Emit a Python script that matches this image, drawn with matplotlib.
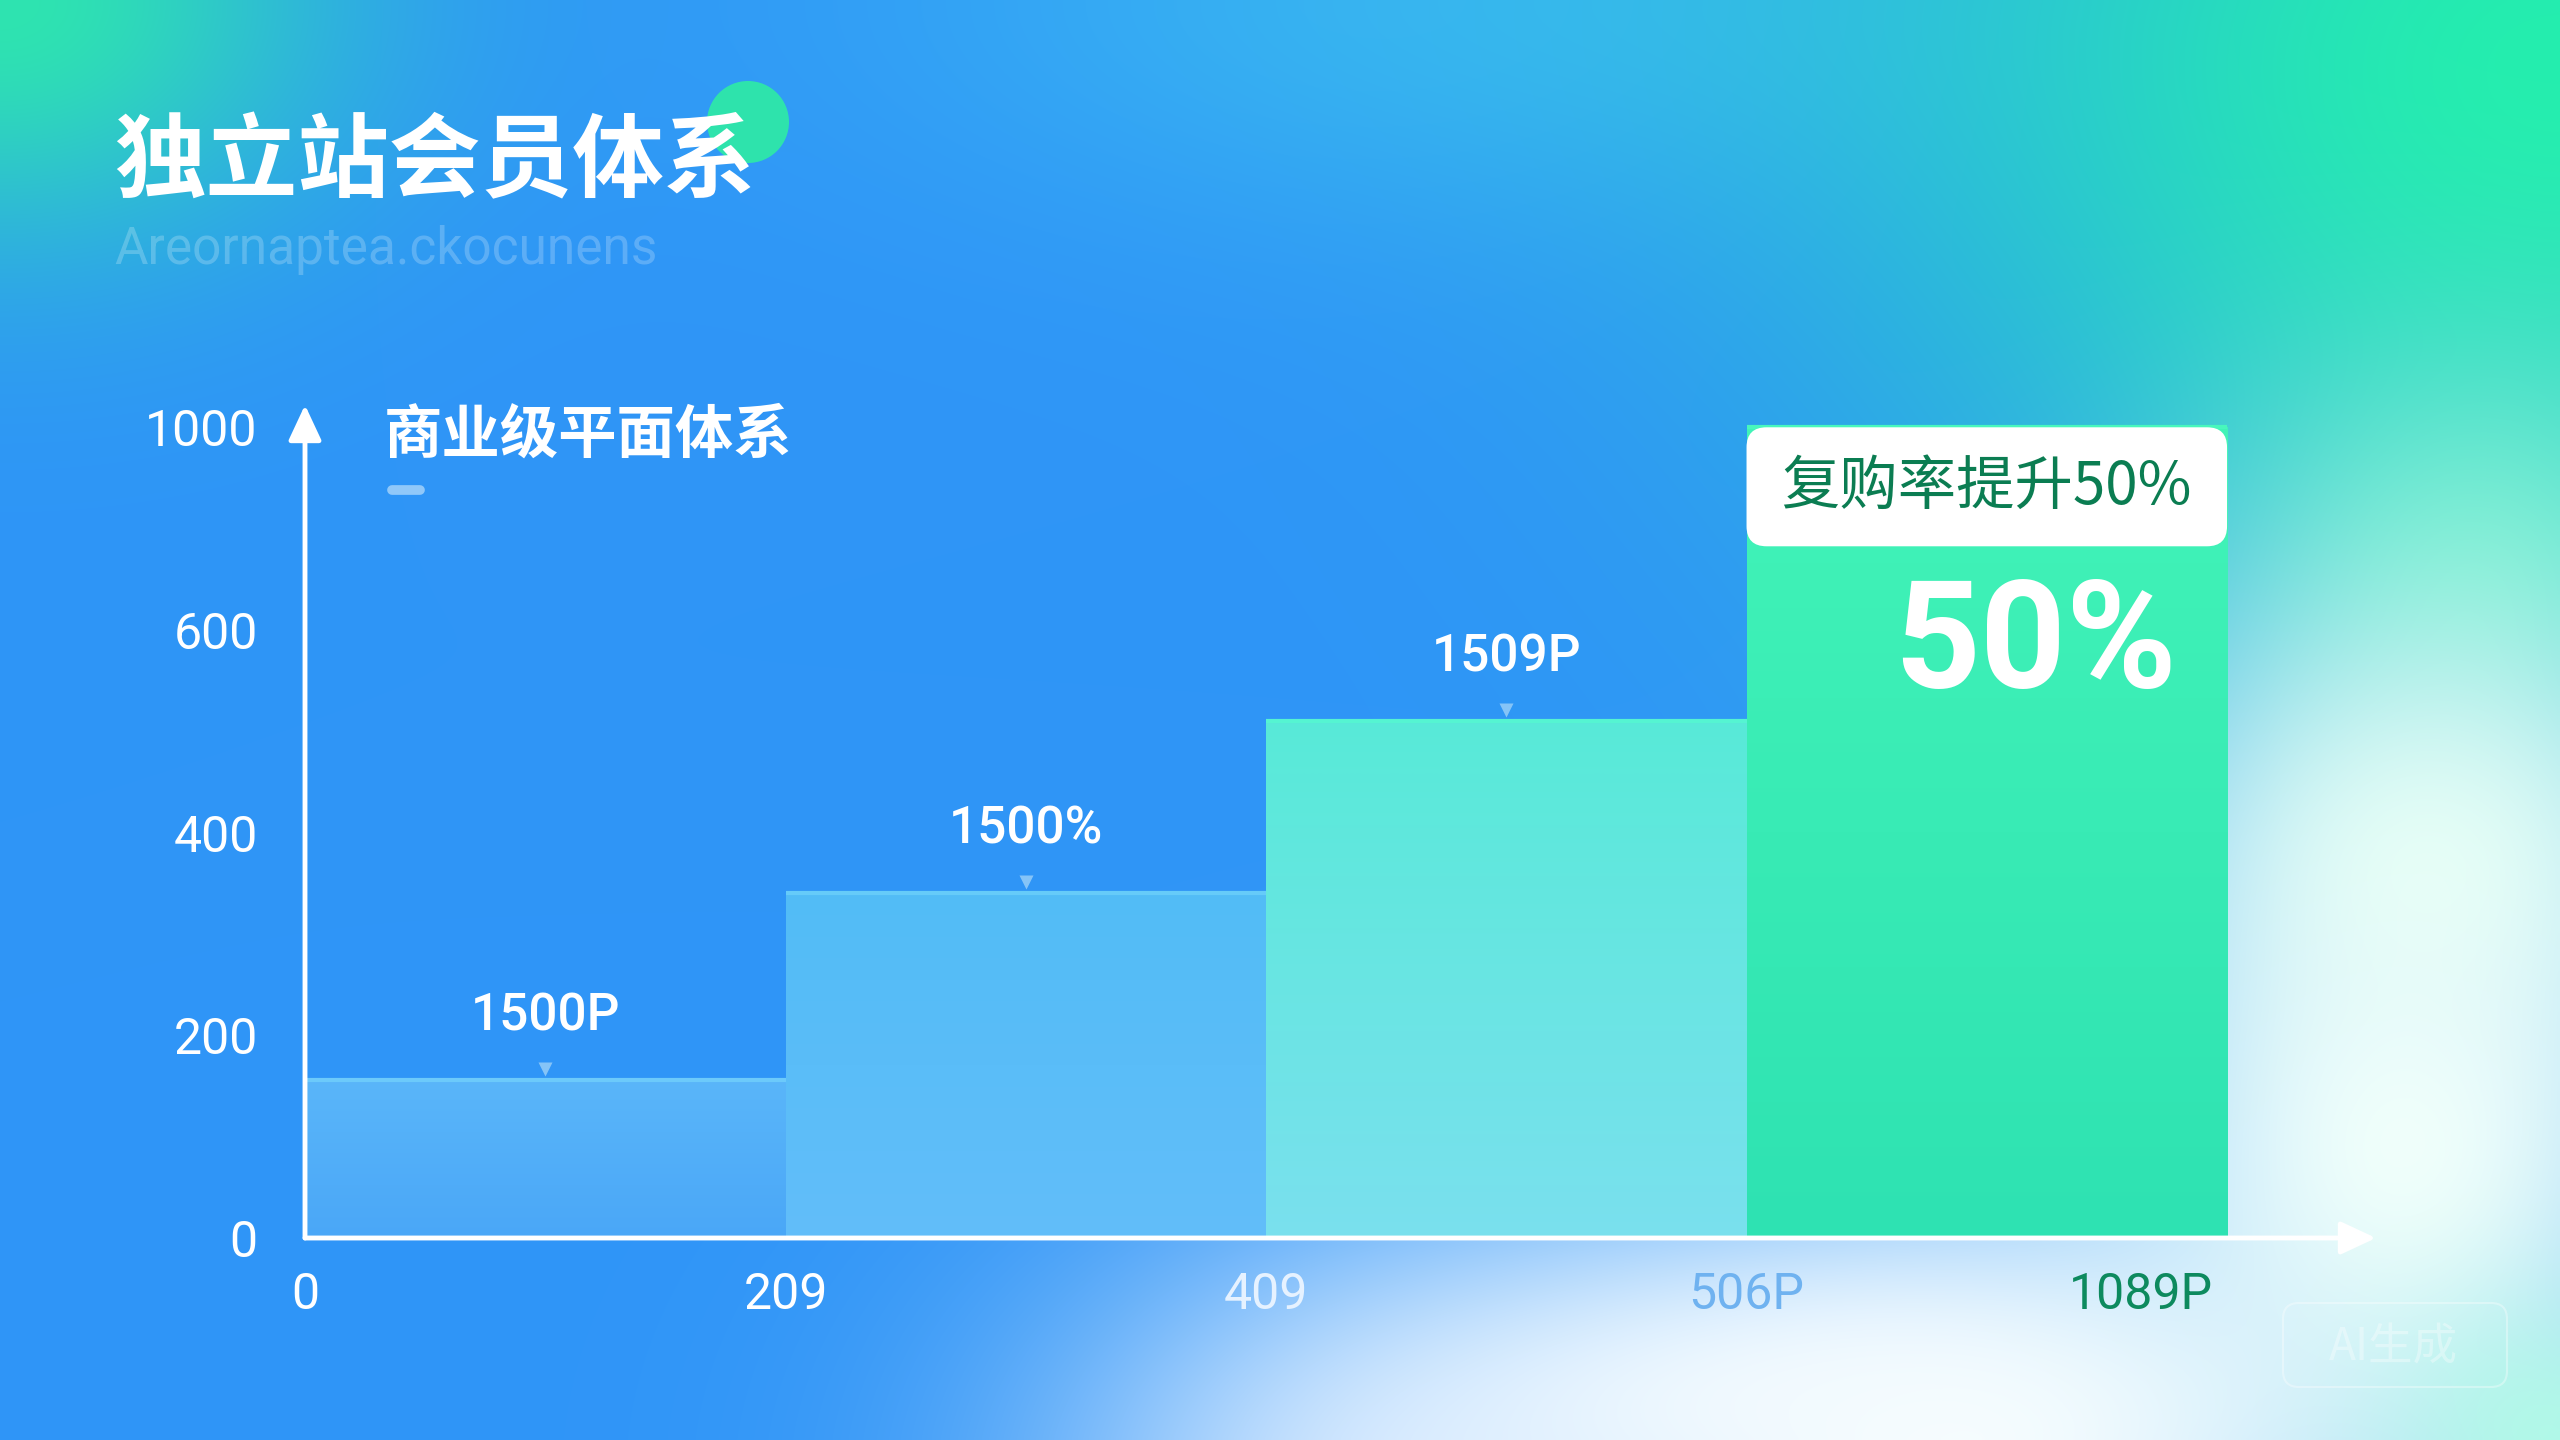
import numpy as np
import matplotlib
matplotlib.use("Agg")
import matplotlib.pyplot as plt
import matplotlib.transforms as mtransforms
from matplotlib.patches import FancyBboxPatch, Circle
from matplotlib.lines import Line2D
from matplotlib.colors import to_rgb

plt.rcParams['font.family'] = ['Noto Sans CJK SC', 'DejaVu Sans']
NUM_FONT = ['Roboto', 'Noto Sans CJK SC', 'DejaVu Sans']

W, H, DPI = 2560, 1440, 100

# ---- data ----
bar_left = [0, 1, 2, 3]
bar_values = [156, 340, 510, 1000]
bar_labels = ['1500P', '1500%', '1509P', '']
xtick_pos = [0, 1, 2, 3, 3.82]
xtick_labels = ['0', '209', '409', '506P', '1089P']
ytick_vals = [0, 200, 400, 600, 1000]
scale_vals = [0, 200, 400, 600, 1000, 1400]      # y axis is evenly spaced per tick
title = '独立站会员体系'
subtitle = 'Areornaptea.ckocunens'
chart_title = '商业级平面体系'
box_title = '复购率提升50%'
big_value = '50%'

# ---- styles ----
bar_top = ['#5ab6fa', '#52bcf6', '#58ead8', '#42f4b8']
bar_bot = ['#4aa7f7', '#62befa', '#7ae0ee', '#2ee2b2']
bar_edge = ['#6ccafb', '#66cbf9', '#55f4d2', '#48f7bc']
xtick_colors = ['white', 'white', '#e6f2ff', '#6fb2f0', '#0d8a5e']
WHITE = 'white'


def fwd(v):
    return np.interp(v, scale_vals, np.arange(len(scale_vals)))


def inv(p):
    return np.interp(p, np.arange(len(scale_vals)), scale_vals)


fig = plt.figure(figsize=(W / DPI, H / DPI), dpi=DPI)

# ---- background gradient ----
bg = fig.add_axes([0, 0, 1, 1], zorder=-5)
gy, gx = np.mgrid[0:1:360j, 0:1:640j]
img = np.ones((360, 640, 3)) * np.array(to_rgb('#2f95f7'))


def blob(cx, cy, sx, sy, color, a=1.0):
    w = a * np.exp(-(((gx - cx) / sx) ** 2 + ((gy - cy) / sy) ** 2))
    img[:] = img * (1 - w[..., None]) + np.array(to_rgb(color)) * w[..., None]


blob(0.58, 0.0, 0.24, 0.16, '#3ab8f2', 0.85)
blob(0.0, 0.0, 0.13, 0.17, '#2ee4b0')
blob(1.0, 0.05, 0.26, 0.38, '#24eeae')
blob(0.97, 0.38, 0.10, 0.16, '#62ecca', 0.9)
blob(0.95, 0.60, 0.12, 0.20, '#dafcf2')
blob(0.55, 1.05, 0.14, 0.18, '#cfe4ff', 0.9)
blob(0.76, 1.0, 0.22, 0.20, '#f8fdff')
blob(0.70, 0.97, 0.14, 0.08, '#f4fbff', 0.8)
blob(0.94, 0.80, 0.12, 0.25, '#f0fffb')
blob(1.0, 1.0, 0.07, 0.10, '#b2fce6', 0.9)
bg.imshow(img, extent=[0, 1, 0, 1], aspect='auto', interpolation='bilinear')
bg.set_axis_off()

# ---- main axes ----
ax = fig.add_axes([305 / W, 202 / H, (2376 - 305) / W, (1238 - 405) / H], zorder=1)
ax.patch.set_alpha(0)
ax.set_yscale('function', functions=(fwd, inv))
ax.set_xlim(0, 4.31)
ax.set_ylim(0, inv(4.11))
for s in ax.spines.values():
    s.set_visible(False)

bars = ax.bar(bar_left, bar_values, width=1, align='edge', color=bar_bot, zorder=2, lw=0)
to_ax = ax.transData + ax.transAxes.inverted()
for b, ct, cb in zip(bars, bar_top, bar_bot):
    (x0, y0), (x1, y1) = to_ax.transform([(b.get_x(), 0), (b.get_x() + b.get_width(), b.get_height())])
    t = np.linspace(0, 1, 256)[:, None, None]
    grad = np.array(to_rgb(ct)) * (1 - t) + np.array(to_rgb(cb)) * t
    im = ax.imshow(grad, extent=[x0, x1, y0, y1], transform=ax.transAxes,
                   aspect='auto', origin='upper', zorder=2.1, interpolation='bilinear')
    im.set_clip_path(b)
ax.set_xlim(0, 4.31)
ax.set_ylim(0, inv(4.11))
ax.hlines(bar_values, bar_left, [l + 1 for l in bar_left], colors=bar_edge, lw=3, zorder=2.2)

# value labels + little pointers
tri = mtransforms.offset_copy(ax.transData, fig=fig, x=0, y=11, units='dots')
for l, v, lbl in zip(bar_left, bar_values, bar_labels):
    if not lbl:
        continue
    ax.plot(l + 0.5, v, marker='v', ms=10, color='#8fcaf8', mec='none', alpha=0.9,
            transform=tri, zorder=3, clip_on=False)
    ax.annotate(lbl, xy=(l + 0.5, v), xytext=(0, 46), textcoords='offset points',
                ha='center', va='center', fontsize=37, color=WHITE, zorder=4,
                family=NUM_FONT, weight='medium')

# highlighted last bar: white header box + big number
p0 = ax.transData.transform((bar_left[-1], bar_values[-1]))
p1 = ax.transData.transform((bar_left[-1] + 1, bar_values[-1]))
box_h = 119
hdr = FancyBboxPatch((p0[0], p0[1] - box_h), p1[0] - p0[0], box_h,
                     boxstyle='round,pad=0,rounding_size=20', fc='white', ec='none',
                     transform=mtransforms.IdentityTransform(), zorder=3, clip_on=False)
ax.add_artist(hdr)
ax.annotate(box_title, xy=(bar_left[-1] + 0.5, bar_values[-1]), xytext=(0, -43),
            textcoords='offset points', ha='center', va='center', fontsize=42,
            color='#0b7d52', weight='medium', zorder=4)
ax.annotate(big_value, xy=(bar_left[-1] + 1, bar_values[-1]), xytext=(-36, -158),
            textcoords='offset points', ha='right', va='center', fontsize=108,
            weight='bold', color=WHITE, zorder=4, family=NUM_FONT)

# axes with arrows
arrow = dict(arrowstyle='-|>,head_length=0.9,head_width=0.42', color=WHITE, lw=3.5,
             mutation_scale=24, shrinkA=0, shrinkB=0)
ax.annotate('', xy=(0, 1), xytext=(0, 0), xycoords='axes fraction', arrowprops=arrow, zorder=5)
ax.annotate('', xy=(1, 0), xytext=(0, 0), xycoords='axes fraction', arrowprops=arrow, zorder=5)

ax.set_yticks(ytick_vals, [str(v) for v in ytick_vals])
ax.set_xticks(xtick_pos, xtick_labels)
ax.tick_params(axis='y', length=0, pad=34, labelsize=36, labelcolor=WHITE)
ax.tick_params(axis='x', length=0, pad=24, labelsize=36)
for lab in ax.get_yticklabels():
    lab.set_family(NUM_FONT)
for lab, c in zip(ax.get_xticklabels(), xtick_colors):
    lab.set_color(c)
    lab.set_family(NUM_FONT)
ax.minorticks_off()

# ---- titles ----
fig.patches.append(Circle((748, H - 122), 41, transform=mtransforms.IdentityTransform(),
                          fc='#2ee8a8', ec='none', alpha=0.95, zorder=0))
fig.text(114 / W, 1 - 163 / H, title, fontsize=66, weight='heavy', color=WHITE,
         va='center', ha='left', zorder=2)
fig.text(114 / W, 1 - 250 / H, subtitle, fontsize=37, color=WHITE, alpha=0.22,
         va='center', ha='left', family=NUM_FONT)
fig.text(384 / W, 1 - 436 / H, chart_title, fontsize=42, weight='bold', color=WHITE,
         va='center', ha='left')
fig.add_artist(Line2D([392 / W, 420 / W], [1 - 490 / H, 1 - 490 / H], lw=7,
                      color='#a9d6fb', alpha=0.8, solid_capstyle='round'))

# watermark
fig.patches.append(FancyBboxPatch((2283, H - 1387), 224, 84, boxstyle='round,pad=0,rounding_size=16',
                                  transform=mtransforms.IdentityTransform(), fc='none',
                                  ec='white', lw=1.5, alpha=0.35))
fig.text(2393 / W, 1 - 1347 / H, 'AI生成', fontsize=32, color=WHITE, alpha=0.35,
         ha='center', va='center')

fig.savefig('out.png', dpi=DPI)
